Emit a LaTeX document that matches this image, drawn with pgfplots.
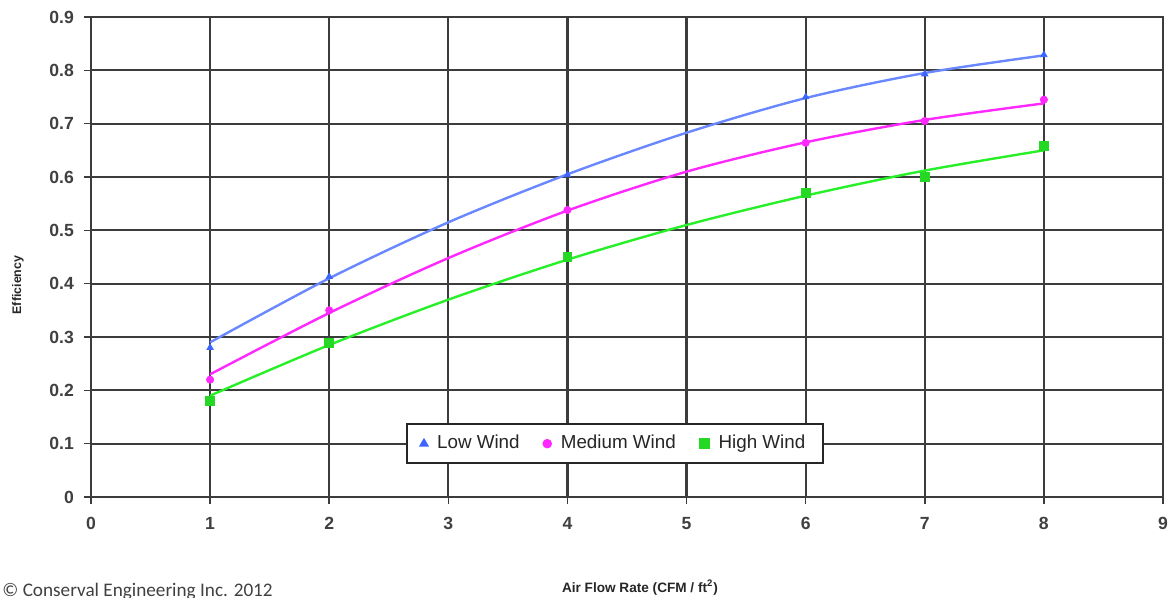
\documentclass[border=0pt]{standalone}
\usepackage{fontspec}
\setmainfont{Liberation Sans}
\newfontfamily\calibri{Carlito}
\usepackage{pgfplots}
\pgfplotsset{compat=1.18}

\definecolor{lowline}{RGB}{105,135,255}
\definecolor{lowmark}{RGB}{60,100,255}
\definecolor{medline}{RGB}{255,40,255}
\definecolor{highline}{RGB}{40,240,40}
\definecolor{gridc}{RGB}{60,60,60}

\begin{document}
\begin{tikzpicture}
\useasboundingbox (-45.5pt,-50.5pt) rectangle (542pt,248.5pt);
\begin{axis}[
  at={(0,0)}, anchor=south west,
  scale only axis,
  width=536pt, height=240pt,
  xmin=0, xmax=9, ymin=0, ymax=0.9,
  xtick={0,1,...,9},
  ytick={0,0.1,...,0.9},
  yticklabel style={/pgf/number format/fixed, /pgf/number format/precision=1},
  /pgf/number format/assume math mode=true,
  tick label style={font=\bfseries\fontsize{8.8}{10}\selectfont, text=black!75},
  xticklabel style={yshift=-3pt},
  yticklabel style={xshift=-1.5pt},
  tick align=outside,
  major tick length=3.5pt,
  tick style={gridc, line width=0.8pt},
  xtick pos=bottom, ytick pos=left,
  grid=major,
  grid style={gridc, line width=1.1pt},
  axis line style={gridc, line width=1.1pt},
  legend style={at={(axis cs:4.4,0.1)}, anchor=center,
    draw=black!85, line width=1.1pt, fill=white,
    font=\fontsize{9.4}{10}\selectfont, text=black!85,
    inner xsep=7pt, inner ysep=3.5pt,
    /tikz/every even column/.append style={column sep=10pt},
    /tikz/every odd column/.append style={column sep=3pt}},
  legend columns=3,
  legend cell align=left,
  clip=false,
]
% trend lines
\addplot[lowline, line width=1.2pt, smooth, forget plot] coordinates {
 (1,0.29) (2,0.41) (3,0.515) (4,0.605) (5,0.683) (6,0.748) (7,0.795) (8,0.828)};
\addplot[medline, line width=1.2pt, smooth, forget plot] coordinates {
 (1,0.23) (2,0.345) (3,0.448) (4,0.537) (5,0.61) (6,0.665) (7,0.707) (8,0.738)};
\addplot[highline, line width=1.2pt, smooth, forget plot] coordinates {
 (1,0.19) (2,0.285) (3,0.37) (4,0.445) (5,0.51) (6,0.565) (7,0.612) (8,0.65)};
% data points
\addplot[only marks, mark=triangle*, mark size=1.8pt, color=lowmark] coordinates {
 (1,0.28) (2,0.413) (4,0.604) (6,0.75) (7,0.793) (8,0.829)};
\addlegendentry{Low Wind}
\addplot[only marks, mark=*, mark size=1.8pt, color=medline] coordinates {
 (1,0.22) (2,0.35) (4,0.538) (6,0.664) (7,0.705) (8,0.745)};
\addlegendentry{Medium Wind}
\addplot[only marks, mark=square*, mark size=2.2pt, color=highline!90!black] coordinates {
 (1,0.18) (2,0.289) (4,0.45) (6,0.57) (7,0.60) (8,0.658)};
\addlegendentry{High Wind}
\end{axis}
\node[rotate=90, font=\bfseries\fontsize{6.2}{7}\selectfont, text=black!85] at (-36.5pt,106pt) {Efficiency};
\node[font=\bfseries\fontsize{6.8}{8}\selectfont, text=black!85] at (274.5pt,-45.5pt) {Air Flow Rate (CFM / ft\textsuperscript{2})};
\node[anchor=west, font=\calibri\fontsize{9.6}{10}\selectfont, text=black!75, inner sep=0pt] at (-44.5pt,-47pt) {© Conserval Engineering Inc. 2012};
\end{tikzpicture}
\end{document}
